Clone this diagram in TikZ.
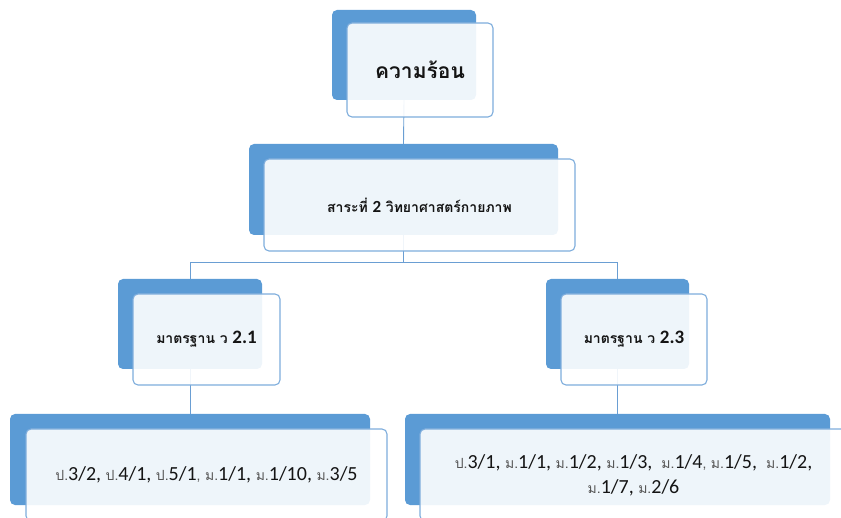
\documentclass[tikz,border=0pt]{standalone}
\usepackage{fontspec}
\setmainfont{Carlito}
\newfontfamily\thaifont[Script=Thai]{Loma}
\definecolor{backblue}{HTML}{5B9BD5}
\definecolor{edgeblue}{HTML}{7EADDC}
\definecolor{linkblue}{HTML}{6A9ED3}
\definecolor{inkdark}{HTML}{141414}
\definecolor{inkgray}{HTML}{555555}
\newcommand\sm[1]{{\thaifont\fontsize{14}{16}\selectfont\color{inkgray}#1}}
\newcommand\tb[2]{{\thaifont\bfseries\fontsize{#1}{#1}\selectfont #2}}
\newcommand\nb[2]{{\bfseries\fontsize{#1}{#1}\selectfont #2}}
\begin{document}
\begin{tikzpicture}[x=1pt,y=-1pt,
  backbox/.style={draw=none, fill=backblue, rounded corners=5pt, inner sep=0pt},
  frontbox/.style={draw=edgeblue, line width=1.1pt, fill=white, fill opacity=0.9, text opacity=1, rounded corners=5pt, inner sep=0pt, align=center, text=inkdark},
  link/.style={draw=linkblue, line width=0.9pt}]
\useasboundingbox (0,0) rectangle (841,518);
\clip (0,0) rectangle (841,518);
% back boxes
\node[backbox, minimum width=144pt, minimum height=90pt] (b1) at (404,55) {};
\node[backbox, minimum width=309pt, minimum height=91pt] (b2) at (403.5,189.5) {};
\node[backbox, minimum width=144pt, minimum height=90pt] (b3l) at (190,324) {};
\node[backbox, minimum width=143pt, minimum height=90pt] (b3r) at (617.5,324) {};
\node[backbox, minimum width=360pt, minimum height=91pt] (b4l) at (190,459.5) {};
\node[backbox, minimum width=425pt, minimum height=91pt] (b4r) at (617.5,459.5) {};
% connectors
\draw[link] (b1.south) -- (b2.north);
\draw[link] (b2.south) -- ++(0,27) -| (b3l.north);
\draw[link] (b2.south) -- ++(0,27) -| (b3r.north);
\draw[link] (b3l.south) -- (b4l.north);
\draw[link] (b3r.south) -- (b4r.north);
% front boxes
\node[frontbox, minimum width=146pt, minimum height=94pt] (f1) at (420,70) {\tb{21}{ความร้อน}};
\node[frontbox, minimum width=311pt, minimum height=92pt] (f2) at (419.5,205) {\tb{14}{สาระที่ }\nb{17}{2}\tb{14}{ วิทยาศาสตร์กายภาพ}};
\node[frontbox, minimum width=147pt, minimum height=91pt] (f3l) at (206.5,339.5) {\tb{14}{มาตรฐาน ว }\nb{19}{2.1}};
\node[frontbox, minimum width=146pt, minimum height=91pt] (f3r) at (634,339.5) {\tb{14}{มาตรฐาน ว }\nb{19}{2.3}};
\node[frontbox, minimum width=361pt, minimum height=92pt, font=\fontsize{20}{25}\selectfont] (f4l) at (206.5,475) {\sm{ป.}3/2, \sm{ป.}4/1, \sm{ป.}5/1\sm{,} \sm{ม.}1/1, \sm{ม.}1/10, \sm{ม.}3/5};
\node[frontbox, minimum width=427pt, minimum height=92pt, font=\fontsize{20}{25}\selectfont] (f4r) at (633.5,475) {\sm{ป.}3/1, \sm{ม.}1/1, \sm{ม.}1/2, \sm{ม.}1/3,\ \ \sm{ม.}1/4\sm{,} \sm{ม.}1/5,\ \ \sm{ม.}1/2,\\ \sm{ม.}1/7, \sm{ม.}2/6};
\end{tikzpicture}
\end{document}
